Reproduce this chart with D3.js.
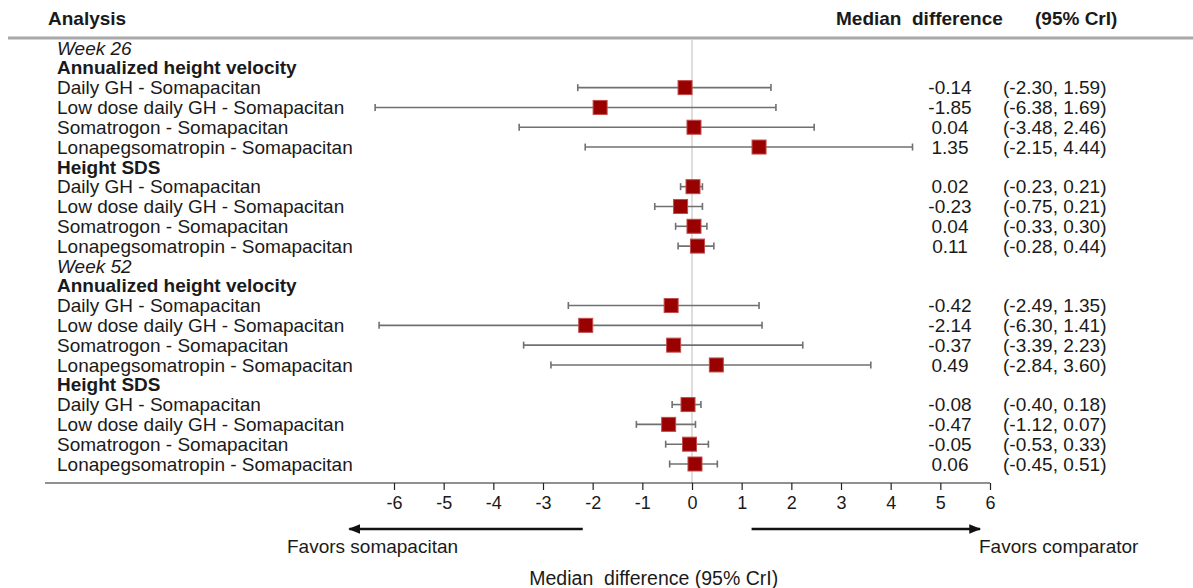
<!DOCTYPE html>
<html lang="en">
<head>
<meta charset="UTF-8">
<title>Forest plot</title>
<script src="https://d3js.org/d3.v7.min.js"></script>
<style>
    body { margin: 0; background: #fff; }
    text { font-family: "Liberation Sans", Arial, sans-serif; fill: #1a1a1a; white-space: pre; }
</style>
</head>
<body>
<script>

    // data
    var weeks = ["Week 26", "Week 52"];
    var outcomes = ["Annualized height velocity", "Height SDS"];
    var comparisons = ["Daily GH - Somapacitan", "Low dose daily GH - Somapacitan",
        "Somatrogon - Somapacitan", "Lonapegsomatropin - Somapacitan"];

    // one inner array per week x outcome block, in the order of the rows
    var medians = [
        [-0.14, -1.85, 0.04, 1.35],
        [0.02, -0.23, 0.04, 0.11],
        [-0.42, -2.14, -0.37, 0.49],
        [-0.08, -0.47, -0.05, 0.06]
    ];
    var lowers = [
        [-2.30, -6.38, -3.48, -2.15],
        [-0.23, -0.75, -0.33, -0.28],
        [-2.49, -6.30, -3.39, -2.84],
        [-0.40, -1.12, -0.53, -0.45]
    ];
    var uppers = [
        [1.59, 1.69, 2.46, 4.44],
        [0.21, 0.21, 0.30, 0.44],
        [1.35, 1.41, 2.23, 3.60],
        [0.18, 0.07, 0.33, 0.51]
    ];
    var xTicks = [-6, -5, -4, -3, -2, -1, 0, 1, 2, 3, 4, 5, 6];

    var width = 1193, height = 588;
    // plain hyphen for negatives, like the original
    var locale = d3.formatLocale({ decimal: ".", thousands: ",", grouping: [3], currency: ["", ""], minus: "-" });
    var fmt = locale.format(".2f");
    var fmtTick = locale.format("d");

    // flatten into rows
    var rows = [];
    weeks.forEach(function (w, wi) {
        rows.push({ type: "week", label: w });
        outcomes.forEach(function (o, oi) {
            rows.push({ type: "group", label: o });
            var b = wi * outcomes.length + oi;
            comparisons.forEach(function (c, ci) {
                rows.push({ type: "item", label: c, med: medians[b][ci], lo: lowers[b][ci], hi: uppers[b][ci] });
            });
        });
    });

    var svg = d3.select("body").append("svg")
        .attr("width", width)
        .attr("height", height);

    var x = d3.scaleLinear().domain([-6, 6]).range([394, 990]);
    var y = d3.scalePoint().domain(d3.range(rows.length)).range([48, 464]);

    var fs = "19px";

    // header
    svg.append("text").attr("x", 48).attr("y", 18).attr("dy", "0.35em")
        .attr("font-weight", "bold").attr("font-size", "19px").text("Analysis");
    svg.append("text").attr("x", 836).attr("y", 18).attr("dy", "0.35em")
        .attr("font-weight", "bold").attr("font-size", "19px").text("Median  difference");
    svg.append("text").attr("x", 1035).attr("y", 18).attr("dy", "0.35em")
        .attr("font-weight", "bold").attr("font-size", "19px").text("(95% CrI)");
    svg.append("line")
        .attr("x1", 8).attr("x2", width).attr("y1", 38).attr("y2", 38)
        .attr("stroke", "#a8a8a8").attr("stroke-width", 3);

    // reference line at zero
    svg.append("line")
        .attr("x1", x(0)).attr("x2", x(0)).attr("y1", 40).attr("y2", 483)
        .attr("stroke", "#c8c8c8").attr("stroke-width", 1.2);

    // row labels
    svg.selectAll(".rowLabel")
        .data(rows)
        .enter()
        .append("text")
        .attr("class", "rowLabel")
        .attr("x", 57)
        .attr("y", function (d, i) { return y(i); })
        .attr("dy", "0.35em")
        .attr("font-size", fs)
        .attr("font-style", function (d) { return d.type === "week" ? "italic" : null; })
        .attr("font-weight", function (d) { return d.type === "group" ? "bold" : null; })
        .text(function (d) { return d.label; });

    var items = rows.map(function (d, i) { d.i = i; return d; })
        .filter(function (d) { return d.type === "item"; });

    // error bars
    var bars = svg.append("g").attr("stroke", "#707070").attr("stroke-width", 1.6);
    bars.selectAll(".ci")
        .data(items).enter().append("line")
        .attr("x1", function (d) { return x(d.lo); })
        .attr("x2", function (d) { return x(d.hi); })
        .attr("y1", function (d) { return y(d.i); })
        .attr("y2", function (d) { return y(d.i); });
    bars.selectAll(".capLo")
        .data(items).enter().append("line")
        .attr("x1", function (d) { return x(d.lo); })
        .attr("x2", function (d) { return x(d.lo); })
        .attr("y1", function (d) { return y(d.i) - 3.5; })
        .attr("y2", function (d) { return y(d.i) + 3.5; });
    bars.selectAll(".capHi")
        .data(items).enter().append("line")
        .attr("x1", function (d) { return x(d.hi); })
        .attr("x2", function (d) { return x(d.hi); })
        .attr("y1", function (d) { return y(d.i) - 3.5; })
        .attr("y2", function (d) { return y(d.i) + 3.5; });

    // squares
    var sq = 14;
    svg.selectAll(".box")
        .data(items).enter().append("rect")
        .attr("x", function (d) { return x(d.med) - sq / 2; })
        .attr("y", function (d) { return y(d.i) - sq / 2; })
        .attr("width", sq).attr("height", sq)
        .attr("fill", "#990000")
        .attr("stroke", "#c24a4a").attr("stroke-width", 1);

    // value columns
    svg.selectAll(".med")
        .data(items).enter().append("text")
        .attr("x", 950)
        .attr("y", function (d) { return y(d.i); })
        .attr("dy", "0.35em")
        .attr("text-anchor", "middle")
        .attr("font-size", fs)
        .text(function (d) { return fmt(d.med); });
    svg.selectAll(".ciText")
        .data(items).enter().append("text")
        .attr("x", 1003)
        .attr("y", function (d) { return y(d.i); })
        .attr("dy", "0.35em")
        .attr("font-size", fs)
        .text(function (d) { return "(" + fmt(d.lo) + ", " + fmt(d.hi) + ")"; });

    // x axis
    var axisY = 483;
    svg.append("line")
        .attr("x1", 45).attr("x2", x(6)).attr("y1", axisY).attr("y2", axisY)
        .attr("stroke", "#222").attr("stroke-width", 1.2);
    var axis = svg.append("g")
        .attr("transform", "translate(0," + axisY + ")")
        .call(d3.axisBottom(x).tickValues(xTicks).tickSize(7).tickPadding(6).tickFormat(fmtTick));
    axis.select(".domain").remove();
    axis.selectAll(".tick line").attr("stroke", "#222").attr("stroke-width", 1.2);
    axis.selectAll(".tick text")
        .attr("font-family", "'Liberation Sans', Arial, sans-serif")
        .attr("font-size", "18px").attr("fill", "#1a1a1a");

    // favour arrows
    var defs = svg.append("defs");
    defs.append("marker")
        .attr("id", "head")
        .attr("viewBox", "0 0 10 10")
        .attr("refX", 9).attr("refY", 5)
        .attr("markerWidth", 5).attr("markerHeight", 5)
        .attr("orient", "auto-start-reverse")
        .attr("markerUnits", "strokeWidth")
        .append("path").attr("d", "M0,1 L10,5 L0,9 Z").attr("fill", "#111");

    var arrowY = 529;
    svg.append("line")
        .attr("x1", x(-2.2)).attr("x2", x(-6.9)).attr("y1", arrowY).attr("y2", arrowY)
        .attr("stroke", "#111").attr("stroke-width", 2.4).attr("marker-end", "url(#head)");
    svg.append("line")
        .attr("x1", x(1.2)).attr("x2", x(5.8)).attr("y1", arrowY).attr("y2", arrowY)
        .attr("stroke", "#111").attr("stroke-width", 2.4).attr("marker-end", "url(#head)");

    svg.append("text").attr("x", 287).attr("y", 546).attr("dy", "0.35em")
        .attr("font-size", fs).text("Favors somapacitan");
    svg.append("text").attr("x", 979).attr("y", 546).attr("dy", "0.35em")
        .attr("font-size", fs).text("Favors comparator");

    svg.append("text").attr("x", x(-0.77)).attr("y", 578).attr("dy", "0.35em")
        .attr("text-anchor", "middle").attr("font-size", "19.5px")
        .text("Median  difference (95% CrI)");

</script>
</body>
</html>
